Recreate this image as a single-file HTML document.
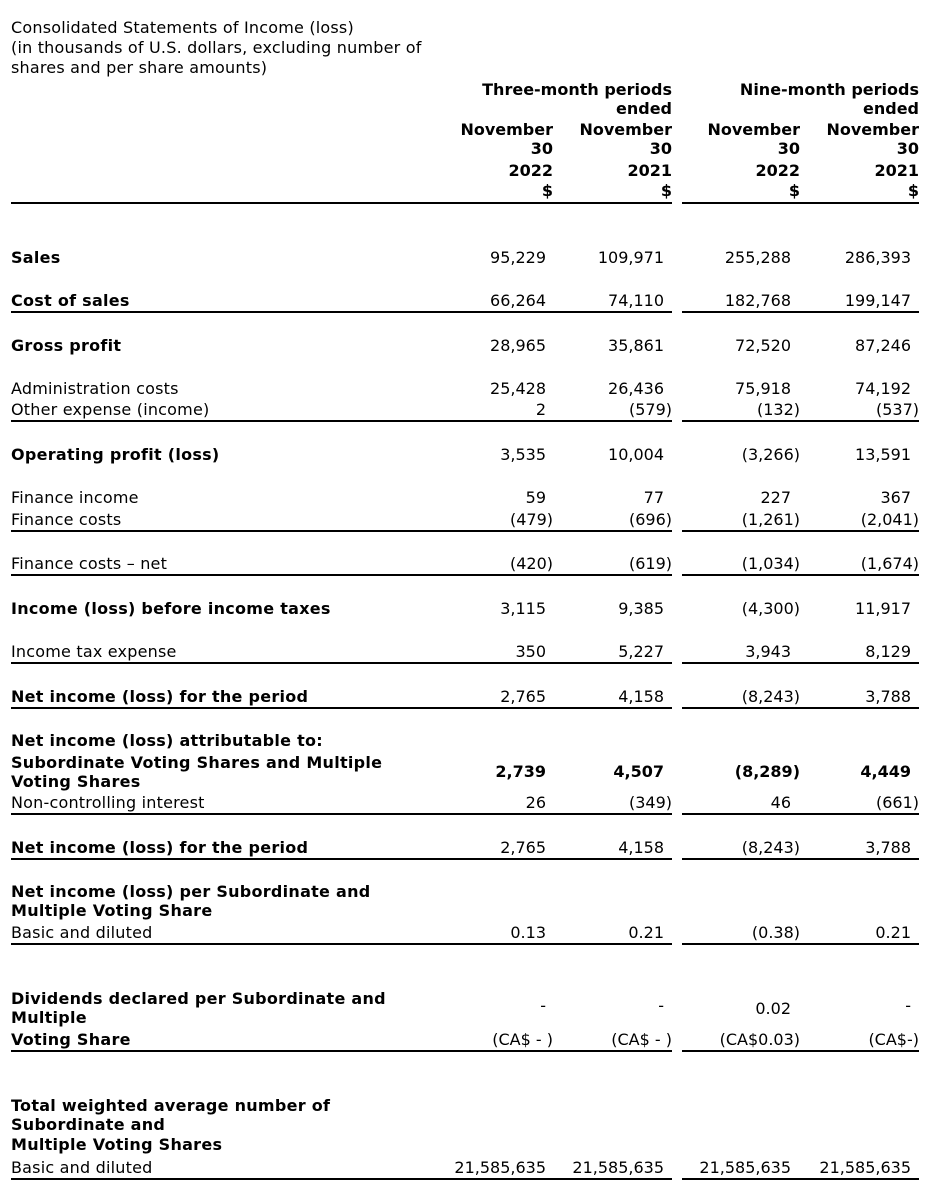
<!DOCTYPE html>
<html><head><meta charset="utf-8"><style>
body{margin:0;background:#fff;width:937px;height:1198px;position:relative;overflow:hidden;font-family:"DejaVu Sans","Liberation Sans",sans-serif;font-size:16px;color:#000}
div{position:absolute;line-height:20px;white-space:nowrap}
.l{left:11px;letter-spacing:0.2px}.l.b{letter-spacing:0.27px}.b{font-weight:bold}
.h{font-weight:bold;text-align:right}
.a{right:391px}.ap{right:384px}.b2{right:273px}.bp{right:265px}.c{right:146px}.cp{right:137px}.d{right:26px}.dp{right:18px}
.ha{right:384px}.hb{right:265px}.hc{right:137px}.hd{right:18px}
.ln{height:2px;background:#000}
.L{left:11px;width:661px}.R{left:682px;width:237px}
</style></head><body>
<div class="l" style="top:18px">Consolidated Statements of Income (loss)</div>
<div class="l" style="top:38px">(in thousands of U.S. dollars, excluding number of</div>
<div class="l" style="top:58px">shares and per share amounts)</div>

<div class="h hb" style="top:80px">Three-month periods</div>
<div class="h hb" style="top:99px">ended</div>
<div class="h hd" style="top:80px">Nine-month periods</div>
<div class="h hd" style="top:99px">ended</div>
<div class="h ha" style="top:120px">November</div><div class="h hb" style="top:120px">November</div><div class="h hc" style="top:120px">November</div><div class="h hd" style="top:120px">November</div>
<div class="h ha" style="top:139px">30</div><div class="h hb" style="top:139px">30</div><div class="h hc" style="top:139px">30</div><div class="h hd" style="top:139px">30</div>
<div class="h ha" style="top:161px">2022</div><div class="h hb" style="top:161px">2021</div><div class="h hc" style="top:161px">2022</div><div class="h hd" style="top:161px">2021</div>
<div class="h ha" style="top:181px">$</div><div class="h hb" style="top:181px">$</div><div class="h hc" style="top:181px">$</div><div class="h hd" style="top:181px">$</div>
<div class="ln L" style="top:202px"></div><div class="ln R" style="top:202px"></div>

<div class="l b" style="top:248px">Sales</div>
<div class="a" style="top:248px">95,229</div><div class="b2" style="top:248px">109,971</div><div class="c" style="top:248px">255,288</div><div class="d" style="top:248px">286,393</div>

<div class="l b" style="top:291px">Cost of sales</div>
<div class="a" style="top:291px">66,264</div><div class="b2" style="top:291px">74,110</div><div class="c" style="top:291px">182,768</div><div class="d" style="top:291px">199,147</div>
<div class="ln L" style="top:311px"></div><div class="ln R" style="top:311px"></div>

<div class="l b" style="top:336px">Gross profit</div>
<div class="a" style="top:336px">28,965</div><div class="b2" style="top:336px">35,861</div><div class="c" style="top:336px">72,520</div><div class="d" style="top:336px">87,246</div>

<div class="l" style="top:379px">Administration costs</div>
<div class="a" style="top:379px">25,428</div><div class="b2" style="top:379px">26,436</div><div class="c" style="top:379px">75,918</div><div class="d" style="top:379px">74,192</div>
<div class="l" style="top:400px">Other expense (income)</div>
<div class="a" style="top:400px">2</div><div class="bp" style="top:400px">(579)</div><div class="cp" style="top:400px">(132)</div><div class="dp" style="top:400px">(537)</div>
<div class="ln L" style="top:420px"></div><div class="ln R" style="top:420px"></div>

<div class="l b" style="top:445px">Operating profit (loss)</div>
<div class="a" style="top:445px">3,535</div><div class="b2" style="top:445px">10,004</div><div class="cp" style="top:445px">(3,266)</div><div class="d" style="top:445px">13,591</div>

<div class="l" style="top:488px">Finance income</div>
<div class="a" style="top:488px">59</div><div class="b2" style="top:488px">77</div><div class="c" style="top:488px">227</div><div class="d" style="top:488px">367</div>
<div class="l" style="top:510px">Finance costs</div>
<div class="ap" style="top:510px">(479)</div><div class="bp" style="top:510px">(696)</div><div class="cp" style="top:510px">(1,261)</div><div class="dp" style="top:510px">(2,041)</div>
<div class="ln L" style="top:530px"></div><div class="ln R" style="top:530px"></div>

<div class="l" style="top:554px">Finance costs – net</div>
<div class="ap" style="top:554px">(420)</div><div class="bp" style="top:554px">(619)</div><div class="cp" style="top:554px">(1,034)</div><div class="dp" style="top:554px">(1,674)</div>
<div class="ln L" style="top:574px"></div><div class="ln R" style="top:574px"></div>

<div class="l b" style="top:599px">Income (loss) before income taxes</div>
<div class="a" style="top:599px">3,115</div><div class="b2" style="top:599px">9,385</div><div class="cp" style="top:599px">(4,300)</div><div class="d" style="top:599px">11,917</div>

<div class="l" style="top:642px">Income tax expense</div>
<div class="a" style="top:642px">350</div><div class="b2" style="top:642px">5,227</div><div class="c" style="top:642px">3,943</div><div class="d" style="top:642px">8,129</div>
<div class="ln L" style="top:662px"></div><div class="ln R" style="top:662px"></div>

<div class="l b" style="top:687px">Net income (loss) for the period</div>
<div class="a" style="top:687px">2,765</div><div class="b2" style="top:687px">4,158</div><div class="cp" style="top:687px">(8,243)</div><div class="d" style="top:687px">3,788</div>
<div class="ln L" style="top:707px"></div><div class="ln R" style="top:707px"></div>

<div class="l b" style="top:731px">Net income (loss) attributable to:</div>
<div class="l b" style="top:753px">Subordinate Voting Shares and Multiple</div>
<div class="l b" style="top:772px">Voting Shares</div>
<div class="a b" style="top:762px">2,739</div><div class="b2 b" style="top:762px">4,507</div><div class="cp b" style="top:762px">(8,289)</div><div class="d b" style="top:762px">4,449</div>
<div class="l" style="top:793px">Non-controlling interest</div>
<div class="a" style="top:793px">26</div><div class="bp" style="top:793px">(349)</div><div class="c" style="top:793px">46</div><div class="dp" style="top:793px">(661)</div>
<div class="ln L" style="top:813px"></div><div class="ln R" style="top:813px"></div>

<div class="l b" style="top:838px">Net income (loss) for the period</div>
<div class="a" style="top:838px">2,765</div><div class="b2" style="top:838px">4,158</div><div class="cp" style="top:838px">(8,243)</div><div class="d" style="top:838px">3,788</div>
<div class="ln L" style="top:858px"></div><div class="ln R" style="top:858px"></div>

<div class="l b" style="top:882px">Net income (loss) per Subordinate and</div>
<div class="l b" style="top:901px">Multiple Voting Share</div>
<div class="l" style="top:923px">Basic and diluted</div>
<div class="a" style="top:923px">0.13</div><div class="b2" style="top:923px">0.21</div><div class="cp" style="top:923px">(0.38)</div><div class="d" style="top:923px">0.21</div>
<div class="ln L" style="top:943px"></div><div class="ln R" style="top:943px"></div>

<div class="l b" style="top:989px">Dividends declared per Subordinate and</div>
<div class="l b" style="top:1008px">Multiple</div>
<div class="l b" style="top:1030px">Voting Share</div>
<div class="a" style="top:996px">-</div><div class="b2" style="top:996px">-</div><div class="c" style="top:999px">0.02</div><div class="d" style="top:996px">-</div>
<div class="ap" style="top:1030px">(CA$ - )</div><div class="bp" style="top:1030px">(CA$ - )</div><div class="cp" style="top:1030px">(CA$0.03)</div><div class="dp" style="top:1030px">(CA$-)</div>
<div class="ln L" style="top:1050px"></div><div class="ln R" style="top:1050px"></div>

<div class="l b" style="top:1096px">Total weighted average number of</div>
<div class="l b" style="top:1115px">Subordinate and</div>
<div class="l b" style="top:1135px">Multiple Voting Shares</div>
<div class="l" style="top:1158px">Basic and diluted</div>
<div class="a" style="top:1158px">21,585,635</div><div class="b2" style="top:1158px">21,585,635</div><div class="c" style="top:1158px">21,585,635</div><div class="d" style="top:1158px">21,585,635</div>
<div class="ln L" style="top:1178px"></div><div class="ln R" style="top:1178px"></div>
</body></html>
